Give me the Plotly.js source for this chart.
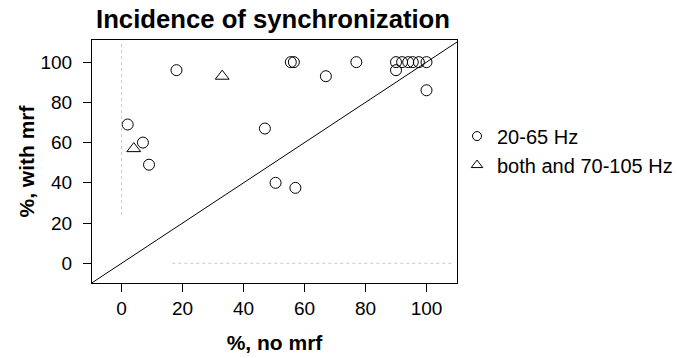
<!DOCTYPE html>
<html>
<head>
<meta charset="utf-8">
<script src="https://cdn.plot.ly/plotly-3.0.1.min.js"></script>
<style>html,body{margin:0;padding:0;background:#fff;}#chart{width:699px;height:358px;}</style>
</head>
<body>
<div id="chart"></div>
<script>
// Circles: 20-65 Hz
var circleNoMrf   = [2, 7, 9, 18, 47, 50.5, 57, 55.5, 56.5, 67, 77, 90, 90, 92, 94, 95.5, 97.5, 100, 100];
var circleWithMrf = [69, 60, 49, 96, 67, 40, 37.5, 100, 100, 93, 100, 100, 96, 100, 100, 100, 100, 100, 86];
// Triangles: both and 70-105 Hz
var triNoMrf   = [4, 33];
var triWithMrf = [57, 93];
// identity line y = x
var identityLine = [-20, 130];
var tickVals = [0, 20, 40, 60, 80, 100];
var zeroRef = 0;

var FONT = 'Liberation Sans, Arial, Helvetica, sans-serif';

var traces = [
  {x: identityLine, y: identityLine, mode: 'lines', line: {color: '#000', width: 1},
   showlegend: false, hoverinfo: 'skip'},
  {x: circleNoMrf, y: circleWithMrf, mode: 'markers', name: '20-65 Hz', showlegend: false,
   marker: {symbol: 'circle-open', size: 11, color: '#000', line: {width: 1, color: '#000'}}},
  {x: triNoMrf, y: triWithMrf, mode: 'markers', name: 'both and 70-105 Hz', showlegend: false,
   marker: {symbol: 'triangle-up-open', size: 12, color: '#000', line: {width: 1, color: '#000'}}},
  // legend entries
  {x: [null], y: [null], mode: 'markers', name: '20-65 Hz',
   marker: {symbol: 'circle-open', size: 9, color: '#000', line: {width: 1, color: '#000'}}},
  {x: [null], y: [null], mode: 'markers', name: 'both and 70-105 Hz',
   marker: {symbol: 'triangle-up-open', size: 10, color: '#000', line: {width: 1, color: '#000'}}}
];

var axisCommon = {
  showgrid: false, zeroline: false, showline: true, mirror: true,
  linecolor: '#000', linewidth: 1, ticks: 'outside', ticklen: 8, tickwidth: 1, tickcolor: '#000',
  tickvals: tickVals, tickfont: {family: FONT, size: 19, color: '#000'}
};

var layout = {
  width: 699, height: 358,
  margin: {l: 92, r: 242, t: 40, b: 75},
  paper_bgcolor: '#fff', plot_bgcolor: '#fff',
  font: {family: FONT, color: '#000'},
  title: {text: '<b>Incidence of synchronization</b>', font: {family: FONT, size: 25.7, color: '#000'},
          x: 0.3906, xanchor: 'center', y: 0.947, yanchor: 'middle'},
  xaxis: Object.assign({}, axisCommon, {range: [-9.7, 110], ticklabelstandoff: 0,
          title: {text: '<b>%, no mrf</b>', font: {family: FONT, size: 21}, standoff: 17}}),
  yaxis: Object.assign({}, axisCommon, {range: [-9.8, 111], ticklabelstandoff: 7,
          title: {text: '<b>%, with mrf</b>', font: {family: FONT, size: 21}, standoff: 0}}),
  shapes: [
    {type: 'line', xref: 'x', yref: 'paper', x0: zeroRef, x1: zeroRef, y0: 0.28, y1: 0.99,
     line: {color: '#c8c8c8', width: 1, dash: 'dot'}},
    {type: 'line', xref: 'paper', yref: 'y', x0: 0.22, x1: 0.99, y0: zeroRef, y1: zeroRef,
     line: {color: '#c8c8c8', width: 1, dash: 'dot'}}
  ],
  legend: {x: 1.0, xanchor: 'left', y: 0.545, yanchor: 'middle',
           font: {family: FONT, size: 20, color: '#000'},
           bgcolor: 'rgba(0,0,0,0)', itemwidth: 30, tracegroupgap: 0},
  showlegend: true
};

Plotly.newPlot('chart', traces, layout, {staticPlot: true, displayModeBar: false});
</script>
</body>
</html>
